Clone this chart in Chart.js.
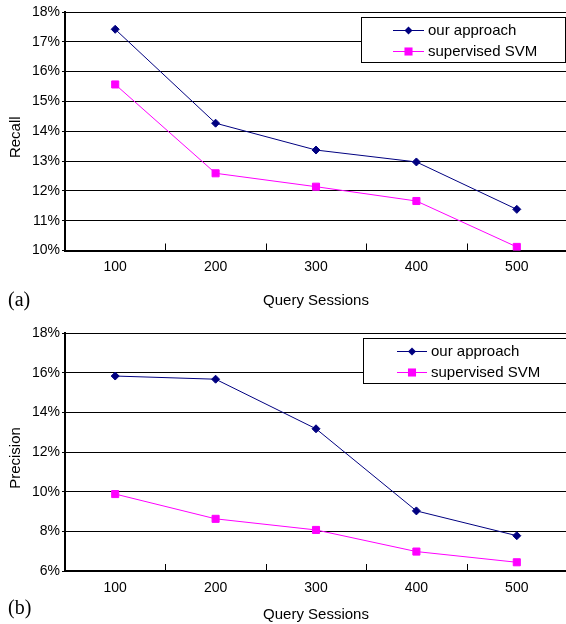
<!DOCTYPE html>
<html>
<head>
<meta charset="utf-8">
<script src="https://cdn.jsdelivr.net/npm/chart.js@4.4.0/dist/chart.umd.min.js"></script>
<style>
  body { margin: 0; background: #fff; }
  #page { position: relative; width: 566px; height: 624px; overflow: hidden; background: #fff; }
  .box { position: absolute; left: 0; width: 573px; }
  .box canvas { width: 573px; }
  .tag { position: absolute; left: 8px; font: 20px "Liberation Serif", "Times New Roman", serif; color: #000; }
</style>
</head>
<body>
<div id="page">
  <div class="box" style="top:0; height:316px"><canvas id="recallChart" width="573" height="316" style="height:316px"></canvas></div>
  <div class="box" style="top:320px; height:304px"><canvas id="precisionChart" width="573" height="304" style="height:304px"></canvas></div>
  <div class="tag" style="top:288px">(a)</div>
  <div class="tag" style="top:596px">(b)</div>
</div>
<script>
"use strict";

// values (percent)
var sessions = ["100", "200", "300", "400", "500"];
var seriesNames = ["our approach", "supervised SVM"];
var recallOurs = [17.42, 14.27, 13.37, 12.97, 11.38];
var recallSvm = [15.57, 12.59, 12.14, 11.66, 10.12];
var precisionOurs = [15.83, 15.67, 13.17, 9.03, 7.78];
var precisionSvm = [9.88, 8.63, 8.07, 6.98, 6.44];
var recallTicks = [10, 11, 12, 13, 14, 15, 16, 17, 18];
var precisionTicks = [6, 8, 10, 12, 14, 16, 18];

Chart.defaults.font.family = "Arial, 'Liberation Sans', sans-serif";
Chart.defaults.color = "#000";

var NAVY = "#000080";
var PINK = "#FF00FF";

function marker(ctx, style, x, y, r, color) {
    ctx.fillStyle = color;
    ctx.beginPath();
    if (style === "rectRot") {
        ctx.moveTo(x, y - r); ctx.lineTo(x + r, y); ctx.lineTo(x, y + r); ctx.lineTo(x - r, y);
    } else {
        var s = Math.SQRT1_2 * r + 0.5;
        ctx.rect(x - s, y - s, 2 * s, 2 * s);
    }
    ctx.closePath();
    ctx.fill();
}

// boxed legend sitting over the upper right of the plot, like the original
var legendBox = {
    id: "legendBox",
    afterDraw: function (chart, args, o) {
        var ctx = chart.ctx;
        ctx.save();
        ctx.fillStyle = "#fff";
        ctx.fillRect(o.x, o.y, o.w, o.h);
        ctx.strokeStyle = "#000";
        ctx.lineWidth = 1;
        ctx.strokeRect(o.x + 0.5, o.y + 0.5, o.w, o.h);
        ctx.font = "15px Arial, 'Liberation Sans', sans-serif";
        ctx.textBaseline = "middle";
        chart.data.datasets.forEach(function (ds, i) {
            var y = o.y + o.row0 + i * o.rowGap;
            ctx.strokeStyle = ds.borderColor;
            ctx.beginPath();
            ctx.moveTo(o.x + o.l0, y + 0.5);
            ctx.lineTo(o.x + o.l1, y + 0.5);
            ctx.stroke();
            marker(ctx, ds.pointStyle, o.x + (o.l0 + o.l1) / 2, y + 0.5, ds.pointRadius, ds.borderColor);
            ctx.fillStyle = "#000";
            ctx.fillText(ds.label, o.x + o.tx, y + 1);
        });
        ctx.restore();
    }
};

// y axis title, a little below the middle of the axis as in the original
var sideTitle = {
    id: "sideTitle",
    afterDraw: function (chart, args, o) {
        var ctx = chart.ctx, a = chart.chartArea;
        ctx.save();
        ctx.font = "15px Arial, 'Liberation Sans', sans-serif";
        ctx.fillStyle = "#000";
        ctx.textAlign = "center";
        ctx.textBaseline = "middle";
        ctx.translate(16, (a.top + a.bottom) / 2 + 6);
        ctx.rotate(-Math.PI / 2);
        ctx.fillText(o.text, 0, 0);
        ctx.restore();
    }
};

// small inward tick marks between the categories
var innerTicks = {
    id: "innerTicks",
    afterDatasetsDraw: function (chart) {
        var ctx = chart.ctx, xs = chart.scales.x, b = chart.chartArea.bottom;
        ctx.save();
        ctx.strokeStyle = "#000";
        ctx.lineWidth = 1;
        for (var i = 1; i < sessions.length; i++) {
            var x = Math.round((xs.getPixelForValue(i - 1) + xs.getPixelForValue(i)) / 2) + 0.5;
            ctx.beginPath();
            ctx.moveTo(x, b - 7);
            ctx.lineTo(x, b);
            ctx.stroke();
        }
        ctx.restore();
    }
};

function makeChart(id, title, ours, svm, ticks, cfg) {
    var canvas = document.getElementById(id);
    return new Chart(canvas, {
        type: "line",
        data: {
            labels: sessions,
            datasets: [
                {
                    label: seriesNames[0], data: ours,
                    borderColor: NAVY, backgroundColor: NAVY, borderWidth: 1,
                    pointStyle: "rectRot", pointRadius: 4, pointBorderWidth: 1,
                    tension: 0, fill: false
                },
                {
                    label: seriesNames[1], data: svm,
                    borderColor: PINK, backgroundColor: PINK, borderWidth: 1,
                    pointStyle: "rect", pointRadius: 5, pointBorderWidth: 1,
                    tension: 0, fill: false
                }
            ]
        },
        options: {
            responsive: false,
            animation: false,
            layout: { padding: { top: cfg.top, left: 0, right: 0, bottom: 0 } },
            plugins: {
                legend: { display: false },
                tooltip: { enabled: false },
                legendBox: cfg.legend,
                sideTitle: { text: title }
            },
            scales: {
                x: {
                    offset: true,
                    grid: { color: "rgba(0,0,0,0)", drawTicks: false },
                    border: { display: true, color: "#000", width: 2 },
                    ticks: { padding: cfg.tickPad, font: { size: 14 } },
                    title: { display: true, text: "Query Sessions", font: { size: 15 }, padding: { top: 0, bottom: cfg.titlePad } },
                    afterFit: function (s) { s.height = cfg.xHeight; }
                },
                y: {
                    min: ticks[0],
                    max: ticks[ticks.length - 1],
                    afterBuildTicks: function (s) { s.ticks = ticks.map(function (v) { return { value: v }; }); },
                    grid: { color: "#000", lineWidth: 1, tickLength: 3 },
                    border: { display: true, color: "#000", width: 2 },
                    ticks: {
                        padding: 2,
                        font: { size: 14 },
                        callback: function (v) { return v + "%"; }
                    },
                    afterFit: function (s) { s.width = 65; }
                }
            }
        },
        plugins: [innerTicks, legendBox, sideTitle]
    });
}

makeChart("recallChart", "Recall", recallOurs, recallSvm, recallTicks, {
    top: 12, xHeight: 65.5, tickPad: 8, titlePad: 6,
    legend: { x: 361, y: 17, w: 204, h: 45, row0: 13, rowGap: 21, l0: 32, l1: 63, tx: 67 }
});

makeChart("precisionChart", "Precision", precisionOurs, precisionSvm, precisionTicks, {
    top: 13, xHeight: 53, tickPad: 9, titlePad: 0,
    legend: { x: 363, y: 18, w: 206, h: 45, row0: 13, rowGap: 21, l0: 34, l1: 64, tx: 68 }
});
</script>
</body>
</html>
